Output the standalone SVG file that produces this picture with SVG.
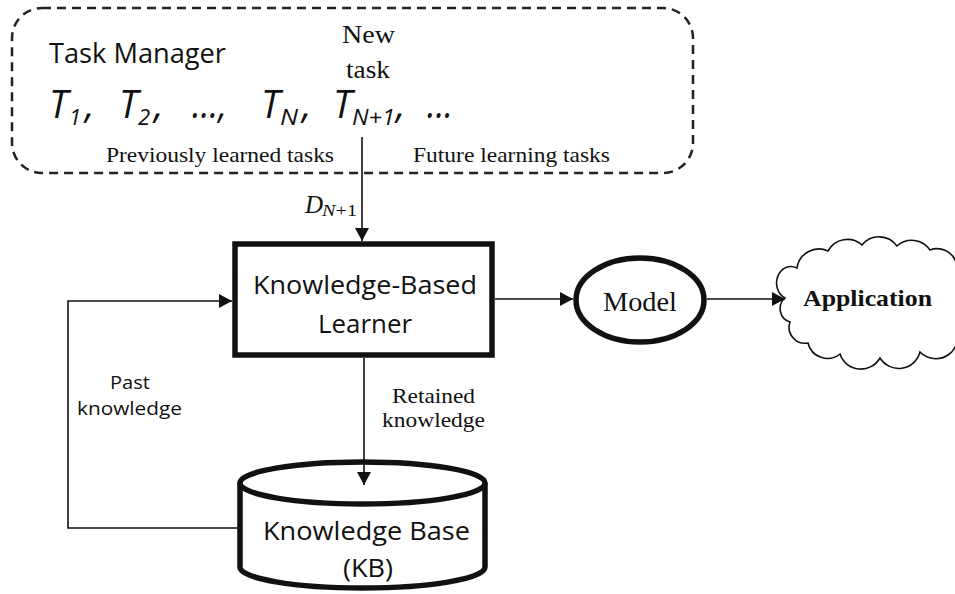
<svg xmlns="http://www.w3.org/2000/svg" width="955" height="594" viewBox="0 0 955 594">
<style>
.sans{font-family:"Open Sans","Liberation Sans",sans-serif;fill:#111}
.serif{font-family:"Liberation Serif","Times New Roman",serif;fill:#111}
.it{font-family:"Open Sans","Liberation Sans",sans-serif;font-style:italic;fill:#111}
.line{fill:none;stroke:#111;stroke-width:1.6}
.thick{fill:#fff;stroke:#111;stroke-width:5.5}
</style>
<defs>
<marker id="ah" markerWidth="14" markerHeight="14" refX="13" refY="7" orient="auto" markerUnits="userSpaceOnUse">
<path d="M0,0 L13,7 L0,14 z" fill="#111"/>
</marker>
</defs>
<rect width="955" height="594" fill="#fff"/>

<g id="task-manager">
<rect x="12" y="8" width="681" height="165" rx="30" ry="30" fill="none" stroke="#222" stroke-width="2.5" stroke-dasharray="9 6"/>
<text class="sans" x="49" y="63" font-size="28" textLength="177" lengthAdjust="spacingAndGlyphs">Task Manager</text>
<text class="serif" x="342" y="43" font-size="25" textLength="53" lengthAdjust="spacingAndGlyphs">New</text>
<text class="serif" x="346" y="78" font-size="25" textLength="44" lengthAdjust="spacingAndGlyphs">task</text>
<text class="it" x="49" y="118" font-size="38">T</text>
<text class="it" x="69" y="125" font-size="22">1</text>
<text class="it" x="85" y="118" font-size="38">,</text>
<text class="it" x="119" y="118" font-size="38">T</text>
<text class="it" x="138" y="125" font-size="22">2</text>
<text class="it" x="154" y="118" font-size="38">,</text>
<text class="it" x="192" y="118" font-size="38" textLength="35" lengthAdjust="spacingAndGlyphs">...,</text>
<text class="it" x="261" y="118" font-size="38">T</text>
<text class="it" x="280" y="125" font-size="22" textLength="18" lengthAdjust="spacingAndGlyphs">N</text>
<text class="it" x="302" y="118" font-size="38">,</text>
<text class="it" x="333" y="118" font-size="38">T</text>
<text class="it" x="352" y="125" font-size="22" textLength="43" lengthAdjust="spacingAndGlyphs">N+1</text>
<text class="it" x="396" y="118" font-size="38">,</text>
<text class="it" x="427" y="118" font-size="38" textLength="26" lengthAdjust="spacingAndGlyphs">...</text>
<text class="serif" x="106" y="162" font-size="21" textLength="228" lengthAdjust="spacingAndGlyphs">Previously learned tasks</text>
<text class="serif" x="413" y="162" font-size="21" textLength="197" lengthAdjust="spacingAndGlyphs">Future learning tasks</text>
</g>

<g id="learner">
<rect class="thick" x="235" y="244" width="257" height="111"/>
<text class="sans" x="253" y="294" font-size="25" textLength="224" lengthAdjust="spacingAndGlyphs">Knowledge-Based</text>
<text class="sans" x="318" y="333" font-size="25" textLength="94" lengthAdjust="spacingAndGlyphs">Learner</text>
</g>

<g id="model">
<ellipse class="thick" cx="640" cy="300" rx="64" ry="42" stroke-width="5"/>
<text class="serif" x="603" y="311" font-size="28" textLength="74" lengthAdjust="spacingAndGlyphs">Model</text>
</g>

<g id="application">
<path d="M785,298 A14,16 0 0 1 797,268 A22,22 0 0 1 828,251 A22,22 0 0 1 862,245 A22,22 0 0 1 897,246 A22,22 0 0 1 930,250 A20,20 0 0 1 956,262 A22,22 0 0 1 962,295 A20,20 0 0 1 956,328 A22,22 0 0 1 920,352 A22,22 0 0 1 880,358 A22,22 0 0 1 840,354 A20,20 0 0 1 808,343 A16,16 0 0 1 790,322 A14,14 0 0 1 785,298 z" fill="#fff" stroke="#111" stroke-width="1.6"/>
<text class="serif" x="803" y="306" font-size="23" font-weight="bold" textLength="129" lengthAdjust="spacingAndGlyphs">Application</text>
</g>

<g id="kb">
<path class="thick" d="M240,483 L240,567 A122.5,21 0 0 0 485,567 L485,483"/>
<ellipse class="thick" cx="362.5" cy="483" rx="122.5" ry="21"/>
<text class="sans" x="263" y="540" font-size="25" textLength="207" lengthAdjust="spacingAndGlyphs">Knowledge Base</text>
<text class="sans" x="343" y="577" font-size="25" textLength="50" lengthAdjust="spacingAndGlyphs">(KB)</text>
</g>

<g id="connectors">
<line class="line" x1="362" y1="137" x2="362" y2="241" marker-end="url(#ah)"/>
<path class="line" d="M238,528 L68,528 L68,301 L232,301" marker-end="url(#ah)"/>
<line class="line" x1="364" y1="358" x2="364" y2="485" stroke-width="2" marker-end="url(#ah)"/>
<line class="line" x1="495" y1="299" x2="573" y2="299" stroke-width="2" marker-end="url(#ah)"/>
<line class="line" x1="707" y1="299" x2="785" y2="299" stroke-width="2" marker-end="url(#ah)"/>
<text class="serif" x="305" y="213" font-size="25" font-style="italic">D</text>
<text class="serif" x="322" y="216" font-size="17" textLength="35" lengthAdjust="spacingAndGlyphs"><tspan font-style="italic">N</tspan>+1</text>
<text class="sans" x="110" y="389" font-size="19" textLength="40" lengthAdjust="spacingAndGlyphs">Past</text>
<text class="sans" x="77" y="415" font-size="19" textLength="105" lengthAdjust="spacingAndGlyphs">knowledge</text>
<text class="serif" x="392" y="403" font-size="21" textLength="83" lengthAdjust="spacingAndGlyphs">Retained</text>
<text class="serif" x="382" y="427" font-size="21" textLength="103" lengthAdjust="spacingAndGlyphs">knowledge</text>
</g>
</svg>
